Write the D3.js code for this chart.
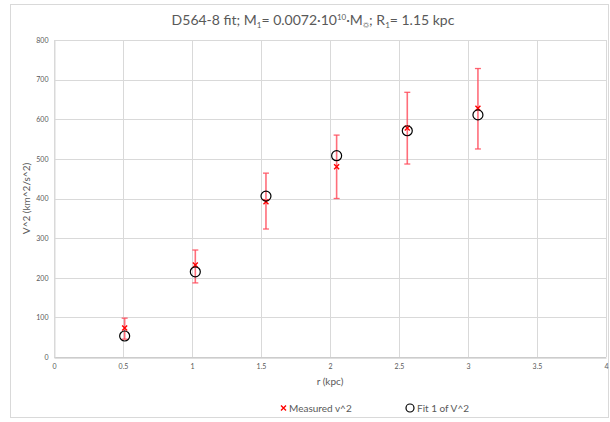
<!DOCTYPE html>
<html>
<head>
<meta charset="utf-8">
<script src="https://cdn.jsdelivr.net/npm/d3@7"></script>
<style>
  html, body { margin: 0; padding: 0; background: #fff; }
  svg { display: block; }
  text { font-family: Lato, "Open Sans", "Liberation Sans", sans-serif; fill: #595959; }
</style>
</head>
<body>
<svg id="chart" width="610" height="422"></svg>
<script>
// ---- data ----
const radius = [0.512, 1.024, 1.536, 2.048, 2.56, 3.072];
const measured = [73, 232, 392, 480, 578, 628];
const errPlus = [25, 38, 72, 80, 90, 100];
const errMinus = [28, 45, 69, 80, 91, 103];
const fit = [53, 215, 406, 508, 571, 611];
const xTicks = [0, 0.5, 1, 1.5, 2, 2.5, 3, 3.5, 4];
const yTicks = [0, 100, 200, 300, 400, 500, 600, 700, 800];
const seriesNames = ["Measured v^2", "Fit 1 of V^2"];

const svg = d3.select("#chart");
const W = 610, H = 422;
const plot = { left: 54, right: 606, top: 40, bottom: 357 };

// chart border
svg.append("rect").attr("x", 10.5).attr("y", 4.5).attr("width", 598).attr("height", 413)
  .attr("fill", "#fff").attr("stroke", "#d9d9d9").attr("stroke-width", 1);

const x = d3.scaleLinear().domain([0, 4]).range([plot.left, plot.right]);
const y = d3.scaleLinear().domain([0, 800]).range([plot.bottom, plot.top]);

// gridlines
const grid = svg.append("g");
grid.selectAll(".hg").data(yTicks).enter().append("line")
  .attr("x1", plot.left).attr("x2", plot.right)
  .attr("y1", d => Math.round(y(d)) + 0.5).attr("y2", d => Math.round(y(d)) + 0.5)
  .attr("stroke", "#d9d9d9").attr("stroke-width", 1);
grid.selectAll(".vg").data(xTicks).enter().append("line")
  .attr("y1", plot.top).attr("y2", plot.bottom)
  .attr("x1", d => Math.round(x(d)) + 0.5).attr("x2", d => Math.round(x(d)) + 0.5)
  .attr("stroke", "#d9d9d9").attr("stroke-width", 1);

// axes
const xAxis = svg.append("g").attr("transform", `translate(0,${Math.round(y(0)) + 0.5})`)
  .call(d3.axisBottom(x).tickValues(xTicks).tickSize(0).tickPadding(7).tickFormat(d3.format("")));
xAxis.select(".domain").attr("stroke", "#bfbfbf");
xAxis.selectAll("text").attr("font-size", 7).style("fill", "#595959");

const yAxis = svg.append("g").attr("transform", `translate(${Math.round(x(0)) + 0.5},0)`)
  .call(d3.axisLeft(y).tickValues(yTicks).tickSize(0).tickPadding(6).tickFormat(d3.format("")));
yAxis.select(".domain").attr("stroke", "#d9d9d9");
yAxis.selectAll("text").attr("font-size", 7).style("fill", "#595959");

// axis titles
svg.append("text").attr("x", x(2)).attr("y", 385).attr("text-anchor", "middle")
  .attr("font-size", 10).text("r (kpc)");
svg.append("text").attr("transform", `translate(30,${y(400)}) rotate(-90)`)
  .attr("text-anchor", "middle").attr("font-size", 10).text("V^2 (km^2/s^2)");

// title
const title = svg.append("text").attr("x", 313).attr("y", 25).attr("text-anchor", "middle")
  .attr("font-size", 14);
title.append("tspan").text("D564-8 fit; M");
title.append("tspan").attr("font-size", 8).attr("dy", 3).text("1");
title.append("tspan").attr("dy", -3).text("= 0.0072·10");
title.append("tspan").attr("font-size", 8).attr("dy", -5).text("10");
title.append("tspan").attr("dy", 5).text("·M");
title.append("tspan").attr("font-size", 8).attr("dy", 3).text("☼");
title.append("tspan").attr("dy", -3).text("; R");
title.append("tspan").attr("font-size", 8).attr("dy", 3).text("1");
title.append("tspan").attr("dy", -3).text("= 1.15 kpc");

// data rows
const rows = radius.map((r, i) => ({ r, m: measured[i], hi: measured[i] + errPlus[i], lo: measured[i] - errMinus[i], f: fit[i] }));

const errColor = "#ff4a5a";
const eb = svg.append("g");
eb.selectAll(".eline").data(rows).enter().append("line")
  .attr("x1", d => x(d.r)).attr("x2", d => x(d.r))
  .attr("y1", d => y(d.hi)).attr("y2", d => y(d.lo))
  .attr("stroke", errColor).attr("stroke-width", 1.6).attr("opacity", 0.8);
["hi", "lo"].forEach(k => {
  eb.selectAll(".cap" + k).data(rows).enter().append("line")
    .attr("x1", d => x(d.r) - 3).attr("x2", d => x(d.r) + 3)
    .attr("y1", d => y(d[k])).attr("y2", d => y(d[k]))
    .attr("stroke", errColor).attr("stroke-width", 1.3).attr("opacity", 0.85);
});

// measured x markers
function xMark(g, cx, cy, s) {
  g.append("path").attr("d", `M${cx - s},${cy - s}L${cx + s},${cy + s}M${cx - s},${cy + s}L${cx + s},${cy - s}`)
    .attr("stroke", "#ff0000").attr("stroke-width", 1.4).attr("fill", "none");
}
const mg = svg.append("g");
rows.forEach(d => xMark(mg, x(d.r), y(d.m), 2.5));

// fit circles
svg.append("g").selectAll("circle").data(rows).enter().append("circle")
  .attr("cx", d => x(d.r)).attr("cy", d => y(d.f)).attr("r", 5)
  .attr("fill", "none").attr("stroke", "#000").attr("stroke-width", 1.2);

// legend
const lg = svg.append("g");
xMark(lg, 283.5, 408, 2.5);
lg.append("text").attr("x", 289).attr("y", 411.5).attr("font-size", 10).text(seriesNames[0]);
lg.append("circle").attr("cx", 410).attr("cy", 408).attr("r", 4).attr("fill", "none")
  .attr("stroke", "#000").attr("stroke-width", 1.2);
lg.append("text").attr("x", 417).attr("y", 411.5).attr("font-size", 10).text(seriesNames[1]);
</script>
</body>
</html>
